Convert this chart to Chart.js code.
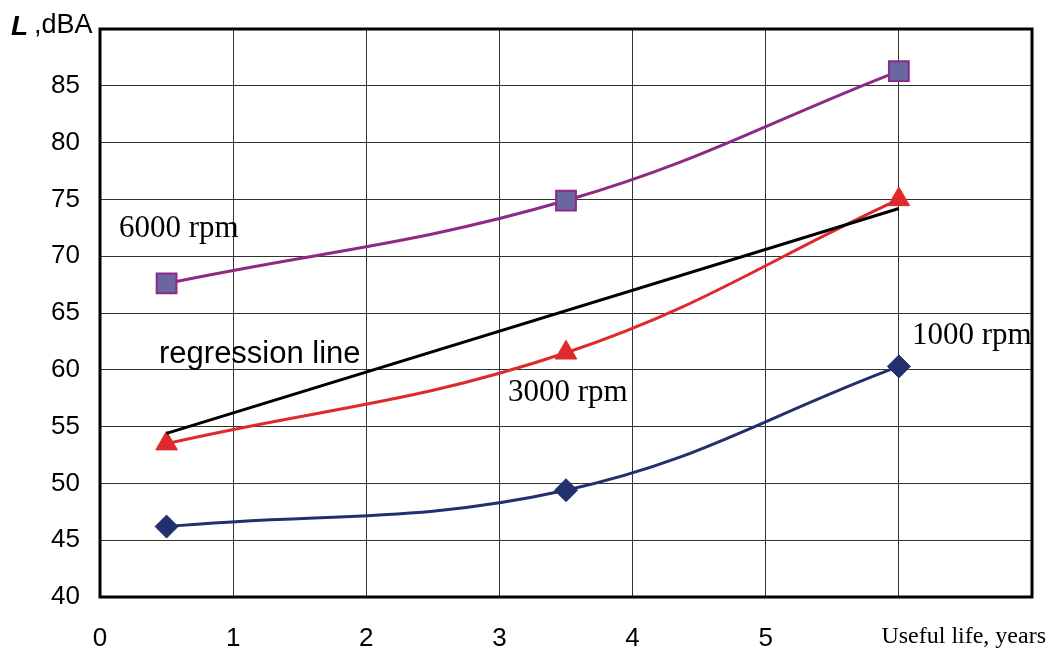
<!DOCTYPE html>
<html>
<head>
<meta charset="utf-8">
<script src="https://cdn.jsdelivr.net/npm/chart.js@4"></script>
<style>
  html, body { margin: 0; padding: 0; background: #fff; }
  #wrap { width: 1048px; height: 653px; }
</style>
</head>
<body>
<div id="wrap"><canvas id="chart" width="1048" height="653"></canvas></div>
<script>
// useful life, years
const years = [0.5, 3.5, 6];
const rpm6000 = [67.6, 74.9, 86.3];
const rpm3000 = [53.5, 61.5, 75.0];
const rpm1000 = [46.2, 49.4, 60.3];
const regressionX = [0.5, 6];
const regressionY = [54.4, 74.2];
const xTickLabels = ["0", "1", "2", "3", "4", "5", "", ""];
const yTickLabels = ["40", "45", "50", "55", "60", "65", "70", "75", "80", "85", ""];

const pts = (xs, ys) => xs.map((x, i) => ({ x, y: ys[i] }));

// frame + free text labels
const extras = {
  id: "extras",
  afterDraw(chart) {
    const { ctx, chartArea: a } = chart;
    ctx.save();
    ctx.strokeStyle = "#000"; ctx.lineWidth = 3;
    ctx.strokeRect(a.left, a.top, a.right - a.left, a.bottom - a.top);

    ctx.fillStyle = "#000"; ctx.textBaseline = "middle";
    ctx.font = "31px 'Liberation Serif', serif"; ctx.textAlign = "left";
    ctx.fillText("6000 rpm", 119, 229);
    ctx.fillText("3000 rpm", 508, 393);
    ctx.fillText("1000 rpm", 912, 336);
    ctx.font = "31px 'Liberation Sans', Arial, sans-serif";
    ctx.fillText("regression line", 159, 354);

    ctx.font = "24px 'Liberation Serif', serif"; ctx.textAlign = "right";
    ctx.fillText("Useful life, years", 1046, 637);

    ctx.textAlign = "left";
    ctx.font = "italic bold 28px 'Liberation Sans', Arial, sans-serif";
    ctx.fillText("L", 11, 27);
    ctx.font = "27px 'Liberation Sans', Arial, sans-serif";
    ctx.fillText(",dBA", 34, 26);
    ctx.restore();
  }
};

new Chart(document.getElementById("chart").getContext("2d"), {
  type: "line",
  data: {
    datasets: [
      { label: "6000 rpm", data: pts(years, rpm6000), borderColor: "#8e2a86", borderWidth: 3, tension: 0.4,
        pointStyle: "rect", pointRadius: 14, pointBackgroundColor: "#6a66a0", pointBorderColor: "#8e2a86", pointBorderWidth: 2 },
      { label: "regression line", data: pts(regressionX, regressionY), borderColor: "#000", borderWidth: 3, tension: 0, pointRadius: 0 },
      { label: "3000 rpm", data: pts(years, rpm3000), borderColor: "#e0292a", borderWidth: 3, tension: 0.4,
        pointStyle: "triangle", pointRadius: 12.5, pointBackgroundColor: "#e0292a", pointBorderColor: "#e0292a", pointBorderWidth: 1 },
      { label: "1000 rpm", data: pts(years, rpm1000), borderColor: "#22306e", borderWidth: 3, tension: 0.4,
        pointStyle: "rectRot", pointRadius: 11.5, pointBackgroundColor: "#22306e", pointBorderColor: "#22306e", pointBorderWidth: 1 }
    ]
  },
  options: {
    responsive: false, animation: false,
    layout: { padding: { top: 29, right: 15, left: 0, bottom: 0 } },
    plugins: { legend: { display: false }, tooltip: { enabled: false } },
    scales: {
      x: {
        type: "linear", min: 0, max: 7,
        afterFit: s => { s.height = 56; s.paddingLeft = 0; s.paddingRight = 0; },
        afterBuildTicks: s => { s.ticks = xTickLabels.map((_, i) => ({ value: i })); },
        ticks: { stepSize: 1, padding: 26, color: "#000", font: { size: 26, family: "'Liberation Sans', Arial, sans-serif" },
          callback: (v) => xTickLabels[v] },
        grid: { color: "#333", lineWidth: 1, drawTicks: false },
        border: { display: false }
      },
      y: {
        min: 40, max: 90,
        afterFit: s => { s.width = 100; s.paddingTop = 0; s.paddingBottom = 0; },
        afterBuildTicks: s => { s.ticks = yTickLabels.map((_, i) => ({ value: 40 + i * 5 })); },
        ticks: { stepSize: 5, padding: 20, color: "#000", font: { size: 26, family: "'Liberation Sans', Arial, sans-serif" },
          callback: (v) => yTickLabels[(v - 40) / 5] },
        grid: { color: "#333", lineWidth: 1, drawTicks: false },
        border: { display: false }
      }
    }
  },
  plugins: [extras]
});
</script>
</body>
</html>
